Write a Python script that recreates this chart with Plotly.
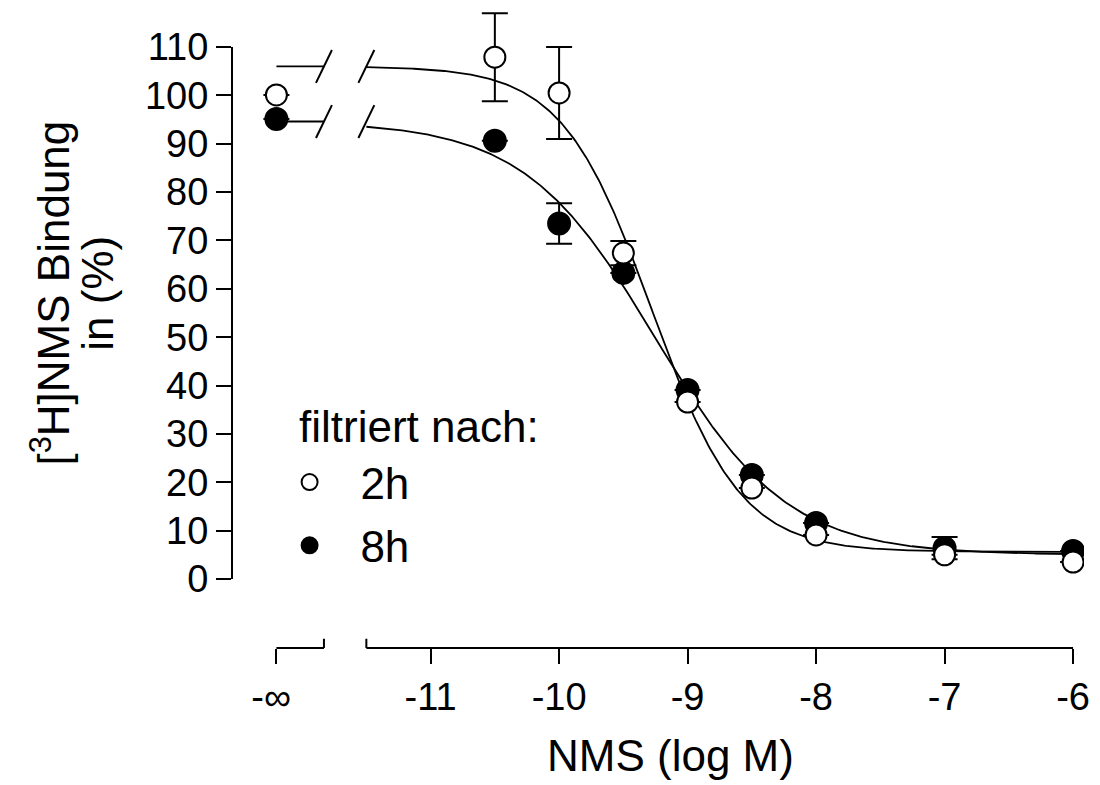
import numpy as np
import plotly.graph_objects as go

# ---------------- data ----------------
LOG_NMS = [-np.inf, -10.5, -10.0, -9.5, -9.0, -8.5, -8.0, -7.0, -6.0]
BIND_2H = [100.1, 107.9, 100.5, 67.4, 36.6, 18.8, 9.1, 5.0, 3.5]
ERR_2H = [0, 9.1, 9.5, 2.5, 0, 0, 0, 0, 0]
BIND_8H = [95.1, 90.6, 73.5, 63.3, 39.1, 21.5, 11.6, 6.4, 5.8]
ERR_8H = [0, 0, 4.2, 0, 0, 0, 0, 2.3, 0]

# fitted sigmoid parameters (top, bottom, logIC50, Hill slope)
FIT_2H = [106.0, 5.6, -9.28, 1.25]
FIT_8H = [94.6, 5.0, -9.25, 0.85]

SERIES_NAMES = ["2h", "8h"]
LEGEND_TITLE = "filtriert nach:"
X_TICK_VALS = [-np.inf, -11, -10, -9, -8, -7, -6]
X_TICK_TEXT = ["-\u221e\u00a0", "-11", "-10", "-9", "-8", "-7", "-6"]
Y_TICK_VALS = list(range(0, 111, 10))

# ---------------- axis geometry (positions) ----------------
X_INF_POS = -12.20      # where "-inf" sits on the axis
X_BREAK_END = -11.83    # end of the "-inf" segment
X_AXIS_START = -11.50   # start of the continuous segment
X_RANGE = [-12.5456, -5.915]
Y_RANGE = [-14.268, 117.66]

def pos(v):
    return X_INF_POS if np.isinf(v) else v

def sigmoid(x, p):
    top, bottom, c, h = p
    return bottom + (top - bottom) / (1 + 10 ** ((np.asarray(x) - c) * h))

FONT = "Liberation Sans, Arial, sans-serif"
fig = go.Figure()

xgrid = np.linspace(X_AXIS_START, -6.0, 400)
for p in (FIT_2H, FIT_8H):
    cx = [X_INF_POS, X_BREAK_END, None] + list(xgrid)
    cy = [p[0], p[0], None] + list(sigmoid(xgrid, p))
    fig.add_trace(go.Scatter(x=cx, y=cy, mode="lines", line=dict(color="black", width=1.8),
                             showlegend=False, hoverinfo="skip"))

px_x = [pos(v) for v in LOG_NMS]

def err(arr):
    return dict(type="data", array=arr, visible=True, color="black", thickness=2, width=13)

fig.add_trace(go.Scatter(x=px_x, y=BIND_8H, mode="markers",
                         name="\u2002\u2009" + SERIES_NAMES[1], legendgroup="g8", legendrank=2,
                         error_y=err(ERR_8H),
                         marker=dict(symbol="circle", size=22, color="black",
                                     line=dict(color="black", width=2))))
fig.add_trace(go.Scatter(x=px_x, y=BIND_2H, mode="markers",
                         name="\u2002\u2009" + SERIES_NAMES[0], legendgroup="g2", legendrank=1,
                         error_y=err(ERR_2H),
                         marker=dict(symbol="circle", size=21, color="white",
                                     line=dict(color="black", width=2))))

shapes = []
# y axis line
shapes.append(dict(type="line", xref="paper", yref="y", x0=0, x1=0, y0=0, y1=110,
                   line=dict(color="black", width=2)))
# bottom axis segments
for a, b in ((X_INF_POS, X_BREAK_END), (X_AXIS_START, -6.0)):
    shapes.append(dict(type="line", xref="x", yref="paper", x0=a, x1=b, y0=0, y1=0,
                       line=dict(color="black", width=2)))
for a in (X_BREAK_END, X_AXIS_START):
    shapes.append(dict(type="line", xref="x", yref="paper", x0=a, x1=a, y0=0, y1=0.0145,
                       line=dict(color="black", width=2)))
# break marks on the curves
dx, dy = 0.062, 3.4
for p in (FIT_2H, FIT_8H):
    for cx in (X_BREAK_END, X_AXIS_START):
        cy = p[0]
        shapes.append(dict(type="line", xref="x", yref="y", x0=cx - dx, x1=cx + dx,
                           y0=cy - dy, y1=cy + dy, line=dict(color="black", width=2)))

annotations = [
    dict(text="[<sup>3</sup>H]NMS Bindung", xref="paper", yref="paper", x=-0.2133, y=0.556,
         textangle=-90, showarrow=False, xanchor="center", yanchor="middle",
         font=dict(family=FONT, size=44, color="black")),
    dict(text="in (%)", xref="paper", yref="paper", x=-0.158, y=0.556,
         textangle=-90, showarrow=False, xanchor="center", yanchor="middle",
         font=dict(family=FONT, size=44, color="black")),
    dict(text="NMS (log M)", xref="paper", yref="paper", x=0.515, y=-0.168,
         showarrow=False, xanchor="center", yanchor="middle",
         font=dict(family=FONT, size=44, color="black")),
    dict(text=LEGEND_TITLE, xref="paper", yref="paper", x=0.0758, y=0.3464,
         showarrow=False, xanchor="left", yanchor="middle",
         font=dict(family=FONT, size=44, color="black")),
]

fig.update_layout(
    width=1100, height=785,
    margin=dict(l=232, r=10, t=10, b=137),
    paper_bgcolor="white", plot_bgcolor="white",
    font=dict(family=FONT, color="black"),
    shapes=shapes, annotations=annotations,
    legend=dict(x=0.0676, y=0.3151, xanchor="left", yanchor="top",
                bgcolor="rgba(0,0,0,0)", traceorder="grouped", tracegroupgap=3,
                font=dict(family=FONT, size=44, color="black")),
    xaxis=dict(range=X_RANGE, showgrid=False, zeroline=False, showline=False,
               tickmode="array", tickvals=[pos(v) for v in X_TICK_VALS], ticktext=X_TICK_TEXT,
               ticks="outside", ticklen=15, tickwidth=2, tickcolor="black",
               tickfont=dict(family=FONT, size=38, color="black")),
    yaxis=dict(range=Y_RANGE, showgrid=False, zeroline=False, showline=False,
               tickmode="array", tickvals=Y_TICK_VALS,
               ticks="outside", ticklen=15, tickwidth=2, tickcolor="black",
               tickfont=dict(family=FONT, size=38, color="black")),
)

fig.write_html("out.html")
